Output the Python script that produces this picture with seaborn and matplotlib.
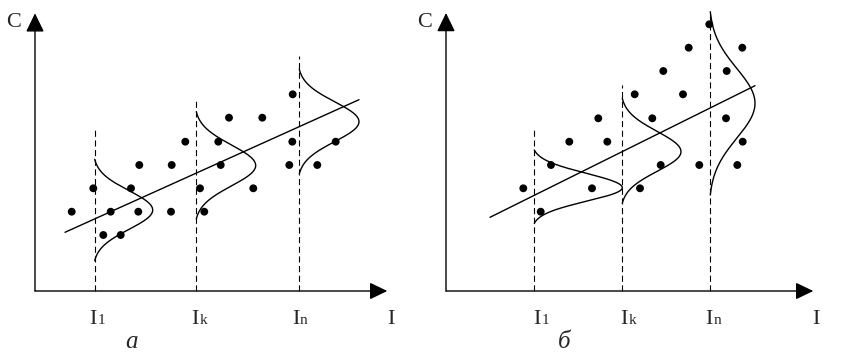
import numpy as np
import pandas as pd
import matplotlib
matplotlib.use("Agg")
import matplotlib.pyplot as plt
import seaborn as sns

sns.set_theme(style="white")
plt.rcParams['font.family'] = ['Liberation Serif', 'DejaVu Serif']

# ---------------- data (units: px-like offsets from each panel's origin) -------------
# panel а
a_dot_x = [36.7, 58.3, 68.3, 75.7, 85.7, 96.0, 104.3, 103.3, 136.7, 136.0, 150.3, 165.0,
           169.3, 183.3, 185.7, 194.0, 218.3, 227.3, 257.7, 257.3, 254.3, 282.3, 300.7]
a_dot_y = [79.3, 102.7, 56.0, 79.3, 56.0, 102.7, 126.0, 79.3, 126.0, 79.3, 149.3, 102.7,
           79.3, 149.3, 126.0, 173.3, 102.7, 173.3, 196.7, 149.3, 126.0, 126.0, 149.3]
a_line_x = [30.0, 324.0]
a_line_y = [58.7, 191.3]
a_levels_x = [59.7, 161.3, 264.3]          # I1, Ik, In
a_levels_top = [163.0, 191.0, 235.0]
a_curve_mu = [81.0, 125.5, 169.3]
a_curve_top = [131.7, 179.3, 221.7]
a_curve_bottom = [30.3, 72.0, 117.0]
a_curve_peak = [58.0, 59.4, 59.7]
a_label_x = [62.0, 164.0, 264.5]

# panel б
b_dot_x = [77.3, 94.7, 105.0, 123.3, 146.0, 152.3, 161.3, 188.7, 194.0, 206.3, 214.7,
           217.3, 237.0, 242.7, 253.3, 263.3, 280.0, 280.7, 291.3, 296.3, 296.7]
b_dot_y = [102.7, 79.3, 126.0, 149.3, 102.7, 172.7, 149.3, 196.7, 102.7, 172.7, 126.0,
           220.0, 196.7, 243.3, 126.0, 266.7, 172.7, 220.0, 126.0, 243.3, 149.3]
b_line_x = [44.0, 309.0]
b_line_y = [73.7, 205.3]
b_levels_x = [88.3, 176.3, 264.3]
b_levels_top = [162.7, 206.0, 279.3]
b_curve_mu = [103.3, 139.3, 187.7]
b_curve_top = [141.0, 192.7, 279.3]
b_curve_bottom = [67.7, 87.7, 96.0]
b_curve_peak = [88.0, 58.7, 44.7]
b_label_x = [95.0, 182.0, 267.0]

level_subs = ["1", "k", "n"]
captions = ["а", "б"]
axis_x_len = [352.3, 367.3]
axis_y_len = [277.7, 278.0]
caption_x = [96.3, 118.7]
ilabel_x = [356.0, 370.0]

# --------------------------------------------------------------------------------------
W, H = 858, 358
fig = plt.figure(figsize=(W / 100, H / 100), dpi=100)
origins = [(35.0, 291.0), (446.0, 291.0)]

panels = [
    dict(dx=a_dot_x, dy=a_dot_y, lx=a_line_x, ly=a_line_y, vx=a_levels_x, vt=a_levels_top,
         mu=a_curve_mu, top=a_curve_top, bot=a_curve_bottom, pk=a_curve_peak, labx=a_label_x),
    dict(dx=b_dot_x, dy=b_dot_y, lx=b_line_x, ly=b_line_y, vx=b_levels_x, vt=b_levels_top,
         mu=b_curve_mu, top=b_curve_top, bot=b_curve_bottom, pk=b_curve_peak, labx=b_label_x),
]

SIG = 0.38
fs_main = 16
fs_sub = 11

for i, (p, (ox, oy)) in enumerate(zip(panels, origins)):
    ax = fig.add_axes([0, 0, 1, 1])
    ax.set_xlim(-ox, W - ox)
    ax.set_ylim(oy - H, oy)
    ax.set_axis_off()
    ax.patch.set_alpha(0)

    # axes with arrows
    ax.annotate('', xy=(axis_x_len[i], 0), xytext=(0, 0),
                arrowprops=dict(arrowstyle='-|>,head_length=1.08,head_width=0.52',
                                mutation_scale=10, lw=1.0, color='black',
                                shrinkA=0, shrinkB=0), annotation_clip=False)
    ax.annotate('', xy=(0, axis_y_len[i]), xytext=(0, 0),
                arrowprops=dict(arrowstyle='-|>,head_length=1.15,head_width=0.56',
                                mutation_scale=10, lw=1.0, color='black',
                                shrinkA=0, shrinkB=0), annotation_clip=False)

    # dashed verticals
    for x, t in zip(p['vx'], p['vt']):
        ax.plot([x, x], [0, t], color='black', lw=0.8, linestyle=(0, (5.5, 3.2)))

    # regression line
    sns.lineplot(x=p['lx'], y=p['ly'], ax=ax, color='black', lw=1.0, estimator=None, sort=False)

    # distribution curves
    for x0, m, t, b, w in zip(p['vx'], p['mu'], p['top'], p['bot'], p['pk']):
        yy_up = np.linspace(m, t, 200)
        yy_dn = np.linspace(b, m, 200)
        su = SIG * (t - m)
        sd = SIG * (m - b)
        e_up = np.exp(-((t - m) ** 2) / (2 * su ** 2))
        e_dn = np.exp(-((m - b) ** 2) / (2 * sd ** 2))
        xu = x0 + w * (np.exp(-((yy_up - m) ** 2) / (2 * su ** 2)) - e_up) / (1 - e_up)
        xd = x0 + w * (np.exp(-((yy_dn - m) ** 2) / (2 * sd ** 2)) - e_dn) / (1 - e_dn)
        cx = np.concatenate([xd, xu])
        cy = np.concatenate([yy_dn, yy_up])
        df = pd.DataFrame({'x': cx, 'y': cy})
        sns.lineplot(data=df, x='x', y='y', ax=ax, color='black', lw=1.0,
                     estimator=None, sort=False)

    # dots
    sns.scatterplot(x=p['dx'], y=p['dy'], ax=ax, color='black', s=32, edgecolor='none',
                    zorder=5)

    # labels
    ax.text(-21.3, 263.7, 'C', fontsize=fs_main, ha='center', va='baseline')
    ax.text(ilabel_x[i], -33.3, 'I', fontsize=fs_main, ha='center', va='baseline')
    for lx, sub in zip(p['labx'], level_subs):
        ax.text(lx, -33.3, 'I', fontsize=fs_main, ha='right', va='baseline')
        ax.text(lx + 0.5, -33.3, sub, fontsize=fs_sub, ha='left', va='baseline')
    ax.text(caption_x[i], -57.3, captions[i], fontsize=18, style='italic',
            ha='center', va='baseline')

fig.savefig('out.png', dpi=100)
